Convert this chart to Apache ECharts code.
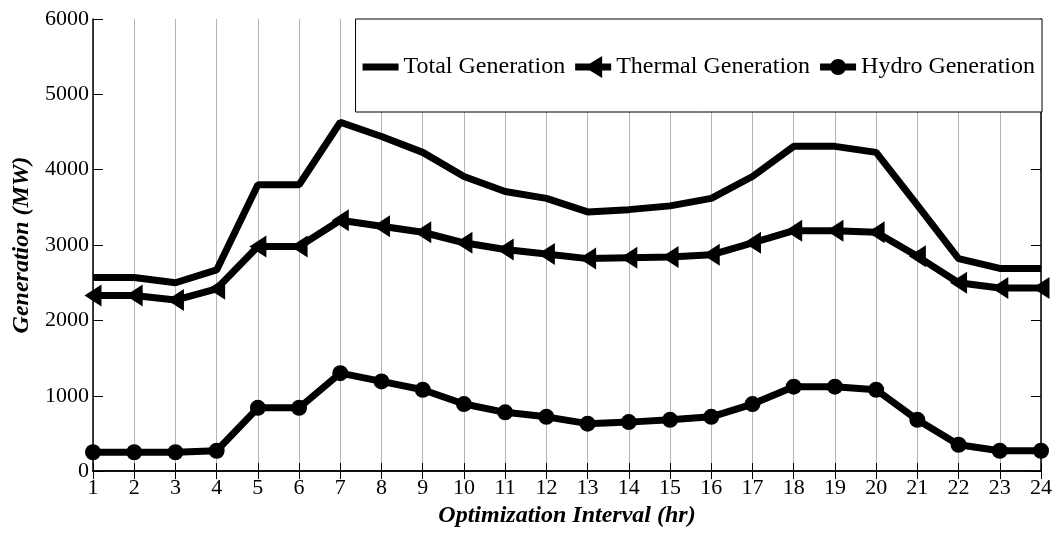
<!DOCTYPE html>
<html>
  <head>
    <meta charset="utf-8">
    <title>generation</title>
    <script src="https://cdn.jsdelivr.net/npm/echarts@6/dist/echarts.min.js"></script>
    <style>
      body { margin: 0; background: #fff; }
    </style>
  </head>
  <body>
    <div id="main" style="width: 1055px; height: 533px"></div>
    <script>
      // hours 1..24
      var hours = ["1","2","3","4","5","6","7","8","9","10","11","12",
                   "13","14","15","16","17","18","19","20","21","22","23","24"];
      var totalGen = [2570, 2570, 2500, 2670, 3800, 3800, 4630, 4440, 4230, 3910, 3710, 3620,
                      3440, 3470, 3520, 3620, 3910, 4310, 4310, 4230, 3530, 2820, 2690, 2690];
      var thermalGen = [2330, 2330, 2270, 2420, 2980, 2980, 3330, 3250, 3170, 3030, 2940, 2880,
                        2820, 2830, 2840, 2870, 3030, 3190, 3190, 3170, 2850, 2500, 2430, 2430];
      var hydroGen = [250, 250, 250, 270, 840, 840, 1300, 1190, 1080, 890, 780, 720,
                      630, 650, 680, 720, 890, 1120, 1120, 1080, 680, 350, 270, 270];

      var font = "'Liberation Serif', 'Times New Roman', serif";

      // legend icons: thick line with the series marker drawn in the middle (36 x 22 box)
      var box = "M0,0M36,22";
      var bar = "M0,7.5L36,7.5L36,14.5L0,14.5Z";
      var iconTotal = "path://" + box + bar;
      var iconThermal = "path://" + box + bar + "M9,11L27,0L27,22Z";
      var iconHydro = "path://" + box + bar + "M10,11A8,8 0 1 1 26,11A8,8 0 1 1 10,11Z";

      var myChart = echarts.init(document.getElementById("main"));

      var option = {
        animation: false,
        backgroundColor: "#fff",
        textStyle: { fontFamily: font, color: "#000" },
        grid: { left: 93, right: 14, top: 19, bottom: 55 },
        legend: {
          right: 13,
          top: 19,
          padding: [36, 7, 33, 7],
          itemWidth: 36,
          itemHeight: 22,
          itemGap: 10,
          selectedMode: false,
          symbolRotate: 0,
          backgroundColor: "#fff",
          borderColor: "#000",
          borderWidth: 1,
          textStyle: { fontFamily: font, fontSize: 24, color: "#000" },
          data: [
            { name: "Total Generation", icon: iconTotal, symbolRotate: 0 },
            { name: "Thermal Generation", icon: iconThermal, symbolRotate: 0 },
            { name: "Hydro Generation", icon: iconHydro, symbolRotate: 0 }
          ]
        },
        xAxis: [
          {
            type: "category",
            data: hours,
            boundaryGap: false,
            name: "Optimization Interval (hr)",
            nameLocation: "middle",
            nameGap: 31,
            nameTextStyle: { fontFamily: font, fontSize: 24, fontWeight: "bold", fontStyle: "italic", color: "#000" },
            axisLine: { lineStyle: { color: "#000", width: 1.5 } },
            axisTick: { inside: true, length: 8, lineStyle: { color: "#000" } },
            axisLabel: { fontFamily: font, fontSize: 22, color: "#000", margin: 6 },
            splitLine: { show: true, lineStyle: { color: "#b5b5b5", width: 1 } }
          },
          {
            type: "category",
            data: hours,
            boundaryGap: false,
            position: "top",
            axisLine: { lineStyle: { color: "#000", width: 1.5 } },
            axisTick: { inside: true, length: 8, lineStyle: { color: "#000" } },
            axisLabel: { show: false },
            splitLine: { show: false }
          }
        ],
        yAxis: [
          {
            type: "value",
            min: 0,
            max: 6000,
            interval: 1000,
            name: "Generation (MW)",
            nameLocation: "middle",
            nameGap: 57,
            nameTextStyle: { fontFamily: font, fontSize: 24, fontWeight: "bold", fontStyle: "italic", color: "#000" },
            axisLine: { show: true, lineStyle: { color: "#000", width: 1.5 } },
            axisTick: { show: true, inside: true, length: 10, lineStyle: { color: "#000" } },
            axisLabel: {
              fontFamily: font, fontSize: 22, color: "#000", margin: 4,
              formatter: function (v) { return String(v); }
            },
            splitLine: { show: false }
          },
          {
            type: "value",
            min: 0,
            max: 6000,
            interval: 1000,
            position: "right",
            axisLine: { show: true, lineStyle: { color: "#000", width: 1.5 } },
            axisTick: { show: true, inside: true, length: 10, lineStyle: { color: "#000" } },
            axisLabel: { show: false },
            splitLine: { show: false }
          }
        ],
        series: [
          {
            name: "Total Generation",
            type: "line",
            data: totalGen,
            symbol: "none",
            lineStyle: { color: "#000", width: 7 },
            itemStyle: { color: "#000" }
          },
          {
            name: "Thermal Generation",
            type: "line",
            data: thermalGen,
            symbol: "triangle",
            symbolRotate: 90,
            symbolSize: [22, 17],
            lineStyle: { color: "#000", width: 7 },
            itemStyle: { color: "#000" }
          },
          {
            name: "Hydro Generation",
            type: "line",
            data: hydroGen,
            symbol: "circle",
            symbolSize: 16,
            lineStyle: { color: "#000", width: 7 },
            itemStyle: { color: "#000" }
          }
        ]
      };

      myChart.setOption(option);
    </script>
  </body>
</html>
